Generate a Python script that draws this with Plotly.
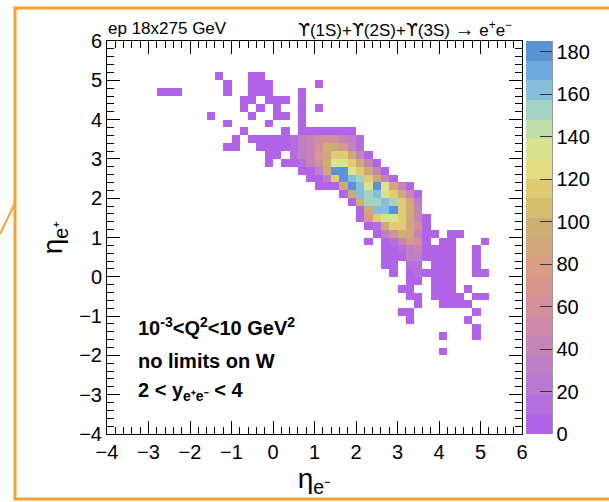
import plotly.graph_objects as go

# ---- data: 2D histogram eta_e+ (rows, top=5.8..6.0) vs eta_e- (cols, left=-4.0..-3.8), bin width 0.2
x_edges_lo = -4.0
y_edges_hi = 6.0
bin_w = 0.2
n_bins = 50

# level code -> bin content
level_values = {'1': 3, '2': 18, '3': 30, '4': 45, '5': 58, '6': 70, '7': 85,
                '8': 100, '9': 115, 'A': 135, 'B': 150, 'C': 165, 'D': 178}

# (row index from top, first column index, cell codes; '.' = empty)
hist_rows = [
    (4, 13, "1...11"),
    (5, 14, "1..111.....1"),
    (6, 6, "111.....1..111...1"),
    (7, 16, "11.111.1"),
    (8, 16, "1.1.1..1.1"),
    (9, 12, "1....1..11.1"),
    (10, 14, "1....1...1"),
    (11, 16, "1....1.1111111"),
    (12, 15, "1.11111234555432"),
    (13, 14, "11..1111234587642"),
    (14, 19, "11.2346799741"),
    (15, 19, "1.112458AA9741"),
    (16, 23, "1137DDA9741"),
    (17, 24, "1139DCB9741"),
    (18, 25, "1117DCADA741"),
    (19, 28, "17CBCA9741"),
    (20, 29, "18BBCB973"),
    (21, 30, "17CCD984"),
    (22, 30, "169AA9741"),
    (23, 31, "12799751"),
    (24, 32, "13587411.11"),
    (25, 31, "1.124651.11...1"),
    (26, 33, "112341111..1"),
    (27, 33, "111331111..1"),
    (28, 33, "11.22.111..1"),
    (29, 34, "1.121111..11"),
    (30, 36, "11.111"),
    (31, 35, "11..111.1"),
    (32, 36, "11.1111.11"),
    (33, 37, "1..1111"),
    (34, 35, "11.......1"),
    (35, 36, "1......1"),
    (36, 44, "1"),
    (37, 40, "1...1"),
    (39, 40, "1"),
]

x_tick_vals = [-4, -3, -2, -1, 0, 1, 2, 3, 4, 5, 6]
y_tick_vals = [-4, -3, -2, -1, 0, 1, 2, 3, 4, 5, 6]
cbar_tick_vals = [0, 20, 40, 60, 80, 100, 120, 140, 160, 180]
z_max = 185

band_colors = ["#b164e8", "#b46ede", "#b978d2", "#be7fc6", "#c585b6", "#cc8aa8",
               "#d4909a", "#d9978e", "#d99e84", "#d2a77a", "#cbb072", "#d6bd70",
               "#e0cc74", "#e4dc7e", "#d9e48e", "#c2dea8", "#a4d2c4", "#86bedc",
               "#6eaade", "#5894d6"]

# ---- build grid
z = [[None] * n_bins for _ in range(n_bins)]  # z[row_from_bottom][col]
for r, c0, codes in hist_rows:
    for k, ch in enumerate(codes):
        if ch != '.':
            z[n_bins - 1 - r][c0 + k] = level_values[ch]
x_centers = [x_edges_lo + bin_w * (i + 0.5) for i in range(n_bins)]
y_centers = [y_edges_hi - bin_w * n_bins + bin_w * (i + 0.5) for i in range(n_bins)]

nb = len(band_colors)
colorscale = []
for i, col in enumerate(band_colors):
    colorscale.append([i / nb, col])
    colorscale.append([(i + 1) / nb, col])

# ---- geometry (pixels)
W, H = 609, 502
L, R, T, B = 107, 522, 41, 434
def px(xp):
    return (xp - L) / (R - L)
def py(yp):
    return (B - yp) / (B - T)

FONT = "Liberation Sans, Arial, Helvetica, sans-serif"

fig = go.Figure(go.Heatmap(
    x=x_centers, y=y_centers, z=z, zmin=0, zmax=z_max,
    colorscale=colorscale, hoverongaps=False,
    colorbar=dict(
        x=px(526), xanchor="left", xpad=0, y=0.5, yanchor="middle", ypad=0,
        len=1.0, lenmode="fraction", thickness=26, thicknessmode="pixels",
        tickvals=cbar_tick_vals, ticks="inside", ticklen=12, tickcolor="#333333",
        tickwidth=1, tickfont=dict(family=FONT, size=20, color="black"),
        outlinewidth=0,
    ),
))

axis_common = dict(
    range=[-4, 6], showgrid=False, zeroline=False, showline=True,
    linecolor="black", linewidth=1, mirror="allticks",
    ticks="inside", ticklen=13, tickcolor="black", tickwidth=1,
    tickfont=dict(family=FONT, size=20, color="black"),
    minor=dict(ticks="inside", ticklen=7, dtick=0.2, tickcolor="black", tickwidth=1, showgrid=False),
)

fig.update_layout(
    width=W, height=H,
    margin=dict(l=L, r=W - R, t=T, b=H - B, autoexpand=False),
    paper_bgcolor="white", plot_bgcolor="white",
    xaxis=dict(axis_common, tickvals=x_tick_vals,
               title=dict(text="η<sub>e⁻</sub>", font=dict(family=FONT, size=28, color="black"), standoff=4)),
    yaxis=dict(axis_common, tickvals=y_tick_vals,
               title=dict(text="η<sub>e⁺</sub>", font=dict(family=FONT, size=28, color="black"), standoff=8)),
    showlegend=False,
)

UPS = "<span style='font-family:DejaVu Sans'>ϒ</span>"
annos = [
    dict(text="ep 18x275 GeV", x=px(106), y=py(29), xanchor="left", yanchor="middle", size=17),
    dict(text=f"{UPS}(1S)+{UPS}(2S)+{UPS}(3S) <span style='font-size:20px'>→</span> e<sup>+</sup>e<sup>−</sup>",
         x=px(514), y=py(29), xanchor="right", yanchor="middle", size=17),
    dict(text="<b>10<sup>-3</sup><Q<sup>2</sup><10 GeV<sup>2</sup></b>", x=px(136), y=py(326),
         xanchor="left", yanchor="middle", size=20),
    dict(text="<b>no limits on W</b>", x=px(136), y=py(361), xanchor="left", yanchor="middle", size=20),
    dict(text="<b>2 < y<sub>e⁺e⁻</sub> < 4</b>", x=px(136), y=py(391), xanchor="left", yanchor="middle",
         size=20),
]
for a in annos:
    fig.add_annotation(text=a["text"], x=a["x"], y=a["y"], xref="paper", yref="paper",
                       xanchor=a["xanchor"], yanchor=a["yanchor"], showarrow=False,
                       font=dict(family=FONT, size=a["size"], color="black"))

# colorbar right edge line
fig.add_shape(type="line", xref="paper", yref="paper", x0=px(552), x1=px(552), y0=0, y1=1,
              line=dict(color="#333333", width=1))
# orange frame and callout line
ORANGE = "#f5a133"
fig.add_shape(type="rect", xref="paper", yref="paper", x0=px(15), x1=px(640), y0=py(499), y1=py(8),
              line=dict(color=ORANGE, width=3), fillcolor="rgba(0,0,0,0)", layer="above")
fig.add_shape(type="line", xref="paper", yref="paper", x0=px(0), y0=py(234), x1=px(15), y1=py(203),
              line=dict(color=ORANGE, width=2))

fig.write_html("out.html")
